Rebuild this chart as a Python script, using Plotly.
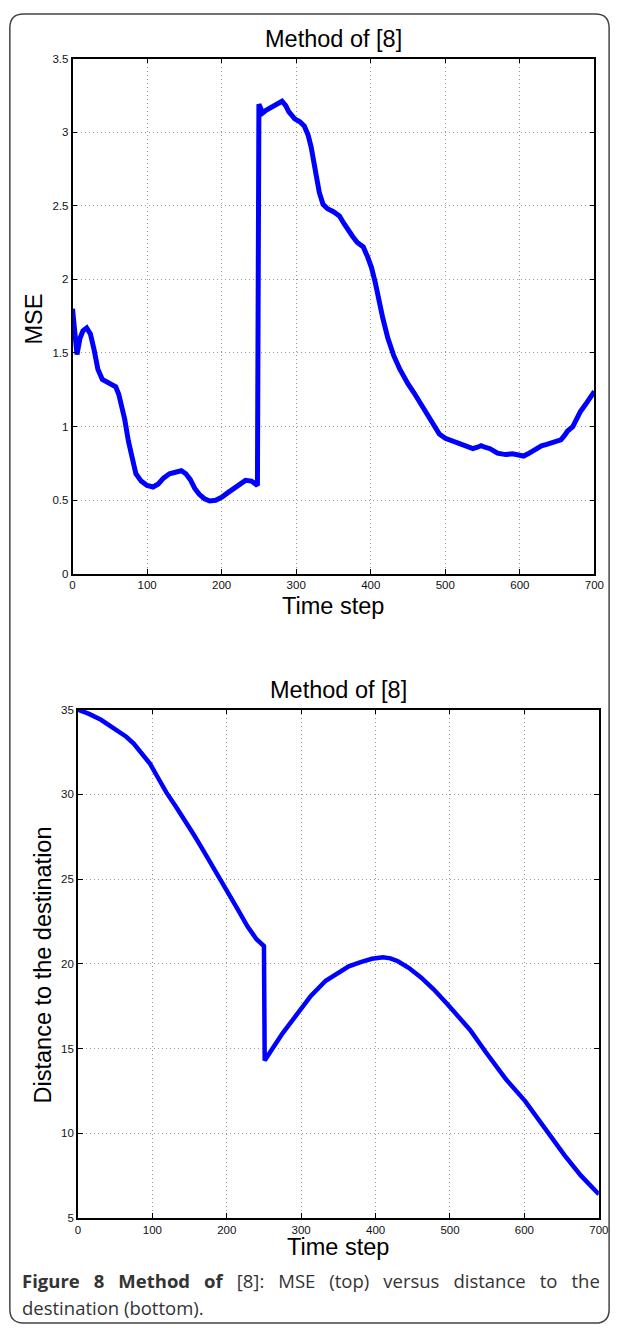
import plotly.graph_objects as go

# ---------------- data ----------------
mse_t = [0, 3, 6, 10, 14, 19, 24, 29, 34, 40, 47, 53, 58, 62, 66, 70, 75, 80, 85, 92,
         100, 108, 115, 122, 130, 138, 146, 152, 158, 164, 170, 177, 184, 192, 200, 208,
         216, 224, 232, 240, 246, 248, 250, 255, 260, 266, 273, 281, 286, 290, 298, 305,
         311, 316, 320, 323, 327, 331, 336, 342, 350, 358, 364, 370, 376, 382, 390, 396,
         401, 406, 411, 416, 423, 431, 439, 445, 450, 458, 465, 472, 480, 486, 492, 500,
         510, 520, 530, 537, 543, 548, 553, 560, 570, 581, 590, 597, 605, 611, 616, 622,
         629, 636, 644, 650, 655, 660, 664, 671, 676, 681, 688, 693, 700]
mse_v = [1.80, 1.62, 1.49, 1.60, 1.65, 1.67, 1.63, 1.52, 1.39, 1.32, 1.30, 1.29, 1.27, 1.22,
         1.15, 1.05, 0.90, 0.77, 0.68, 0.63, 0.60, 0.59, 0.61, 0.65, 0.68, 0.69, 0.70, 0.68,
         0.64, 0.58, 0.54, 0.51, 0.495, 0.50, 0.52, 0.55, 0.58, 0.615, 0.635, 0.63, 0.61,
         0.60, 3.19, 3.13, 3.15, 3.17, 3.19, 3.21, 3.18, 3.14, 3.09, 3.07, 3.04, 2.98, 2.90,
         2.82, 2.70, 2.59, 2.51, 2.48, 2.46, 2.43, 2.38, 2.33, 2.29, 2.25, 2.22, 2.15, 2.08,
         1.98, 1.85, 1.74, 1.60, 1.48, 1.39, 1.33, 1.29, 1.23, 1.17, 1.12, 1.05, 0.99, 0.95,
         0.92, 0.90, 0.88, 0.86, 0.85, 0.86, 0.87, 0.86, 0.85, 0.82, 0.81, 0.815, 0.805,
         0.80, 0.815, 0.83, 0.85, 0.87, 0.88, 0.89, 0.90, 0.91, 0.94, 0.97, 1.00, 1.05,
         1.10, 1.15, 1.19, 1.24]

dist_t = [0, 15, 31, 42, 53, 65, 75, 86, 97, 108, 119, 132, 145, 156, 167, 178, 189, 202,
          215, 228, 240, 250, 251, 260, 275, 294, 313, 333, 350, 364, 380, 395, 410, 420,
          430, 445, 461, 478, 496, 512, 527, 548, 557, 575, 601, 627, 654, 676, 700]
dist_v = [35.0, 34.75, 34.4, 34.1, 33.75, 33.4, 33.0, 32.4, 31.8, 30.95, 30.1, 29.25, 28.4,
          27.6, 26.8, 26.0, 25.2, 24.2, 23.2, 22.2, 21.45, 21.05, 14.3, 14.9, 15.9, 17.0,
          18.1, 19.0, 19.5, 19.85, 20.1, 20.3, 20.38, 20.32, 20.15, 19.75, 19.2, 18.5,
          17.65, 16.85, 16.1, 14.8, 14.25, 13.2, 11.9, 10.3, 8.7, 7.5, 6.4]

x_ticks = [0, 100, 200, 300, 400, 500, 600, 700]
mse_ticks = [0, 0.5, 1, 1.5, 2, 2.5, 3, 3.5]
dist_ticks = [5, 10, 15, 20, 25, 30, 35]

title_text = "Method of [8]"
xlabel = "Time step"
ylabel_top = "MSE"
ylabel_bot = "Distance to the destination"

# ---------------- layout helpers ----------------
W, H = 624, 1336
def px(x):
    return x / W
def py(y):
    return 1 - y / H

FONT = "Liberation Sans, Arial, Helvetica, sans-serif"
BLUE = "#0000FF"

fig = go.Figure()
fig.add_trace(go.Scatter(x=mse_t, y=mse_v, mode="lines",
                         line=dict(color=BLUE, width=5), xaxis="x", yaxis="y",
                         showlegend=False, hoverinfo="x+y"))
fig.add_trace(go.Scatter(x=dist_t, y=dist_v, mode="lines",
                         line=dict(color=BLUE, width=4.5), xaxis="x2", yaxis="y2",
                         showlegend=False, hoverinfo="x+y"))

axis_common = dict(
    showgrid=True, gridcolor="#9a9a9a", gridwidth=1, griddash="1px,3px",
    showline=True, linecolor="black", linewidth=1.5, mirror="ticks",
    ticks="inside", ticklen=5, tickcolor="black", tickwidth=1,
    zeroline=False, tickfont=dict(family=FONT, size=11.5, color="#111"),
    fixedrange=True,
)

fig.update_layout(
    width=W, height=H, autosize=False,
    margin=dict(l=0, r=0, t=0, b=0),
    paper_bgcolor="white", plot_bgcolor="white",
    font=dict(family=FONT, color="black"),
    xaxis=dict(axis_common, domain=[px(71), px(604)], range=[0, 700],
               tickvals=x_ticks, anchor="y"),
    yaxis=dict(axis_common, domain=[py(573), py(53)], range=[0, 3.5],
               tickvals=mse_ticks, anchor="x"),
    xaxis2=dict(axis_common, domain=[px(76.5), px(608.5)], range=[0, 700],
                tickvals=x_ticks, anchor="y2"),
    yaxis2=dict(axis_common, domain=[py(1223), py(710)], range=[5, 35],
                tickvals=dist_ticks, anchor="x2"),
)

ann = []
def label(text, x, y, size=23.5, angle=0, **kw):
    ann.append(dict(text=text, x=px(x), y=py(y), xref="paper", yref="paper",
                    showarrow=False, textangle=angle,
                    font=dict(family=FONT, size=size, color="black"),
                    xanchor="center", yanchor="middle", **kw))

label(title_text, 337.5, 33)
label(xlabel, 337.5, 605)
label(ylabel_top, 32, 316, angle=-90)
label(title_text, 342.5, 690)
label(xlabel, 342.5, 1252)
label(ylabel_bot, 41, 968, angle=-90)

CAP_FONT = "Open Sans, Noto Sans, sans-serif"
ann.append(dict(
    text='<span style="word-spacing:9.2px"><b>Figure 8 Method of</b> [8]: MSE (top) versus distance to the</span>',
    x=px(17), y=py(1286), xref="paper", yref="paper", showarrow=False,
    xanchor="left", yanchor="middle",
    font=dict(family=CAP_FONT, size=18.5, color="#333333")))
ann.append(dict(
    text="destination (bottom).",
    x=px(17), y=py(1313), xref="paper", yref="paper", showarrow=False,
    xanchor="left", yanchor="middle",
    font=dict(family=CAP_FONT, size=18.5, color="#333333")))
fig.update_layout(annotations=ann)

# rounded frame around the whole figure
x0, x1, y0, y1, r = 7, 619, 8, 1329, 14
path = (f"M {px(x0 + r)},{py(y0)} L {px(x1 - r)},{py(y0)} "
        f"Q {px(x1)},{py(y0)} {px(x1)},{py(y0 + r)} "
        f"L {px(x1)},{py(y1 - r)} Q {px(x1)},{py(y1)} {px(x1 - r)},{py(y1)} "
        f"L {px(x0 + r)},{py(y1)} Q {px(x0)},{py(y1)} {px(x0)},{py(y1 - r)} "
        f"L {px(x0)},{py(y0 + r)} Q {px(x0)},{py(y0)} {px(x0 + r)},{py(y0)} Z")
fig.add_shape(type="path", path=path, xref="paper", yref="paper",
              line=dict(color="#444444", width=1.5), fillcolor="rgba(0,0,0,0)",
              layer="above")

fig.write_html("out.html",
               config={"displayModeBar": False},
               post_script="document.body.style.margin='0px';"
                           "document.body.style.overflow='hidden';")
